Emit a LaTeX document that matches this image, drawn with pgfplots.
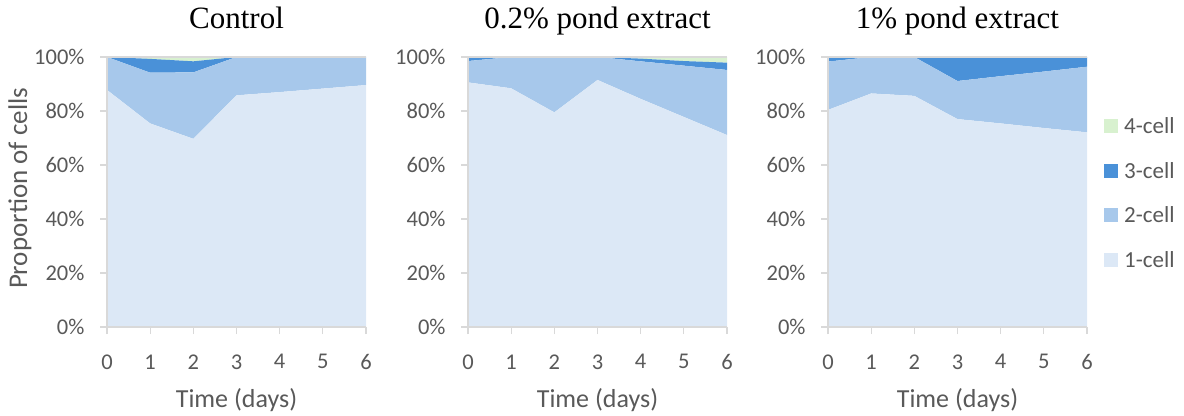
\documentclass[border=0pt]{standalone}
\usepackage{fontspec}
\setmainfont{Carlito}
\newfontfamily\titlefont{Liberation Serif}
\usepackage{pgfplots}
\pgfplotsset{compat=1.18}
\usepackage{pgfplotstable}

\definecolor{cellA}{HTML}{DCE8F6}
\definecolor{cellB}{HTML}{A7C8EB}
\definecolor{cellC}{HTML}{4A91D8}
\definecolor{cellD}{HTML}{D8F1CF}
\definecolor{axgray}{HTML}{D9D9D9}
\definecolor{txtgray}{HTML}{595959}

% day, proportions (%) of 1-, 2-, 3- and 4-cell stages
\pgfplotstableread{
day one two three four
0 87.8 12.2 0.0 0.0
1 75.4 18.8 5.1 0.7
2 69.7 24.6 4.1 1.6
3 85.8 14.2 0.0 0.0
4 87.0 13.0 0.0 0.0
5 88.3 11.7 0.0 0.0
6 89.6 10.4 0.0 0.0
}\control
\pgfplotstableread{
day one two three four
0 90.6 7.9 1.5 0.0
1 88.4 11.6 0.0 0.0
2 79.5 20.5 0.0 0.0
3 91.5 8.5 0.0 0.0
4 84.5 13.9 1.0 0.6
5 77.8 19.0 1.7 1.5
6 71.1 24.1 2.7 2.1
}\lowdose
\pgfplotstableread{
day one two three four
0 80.4 17.9 1.7 0.0
1 86.5 13.5 0.0 0.0
2 85.6 14.4 0.0 0.0
3 77.0 14.1 8.9 0.0
4 75.4 17.5 7.1 0.0
5 73.7 20.9 5.4 0.0
6 72.1 24.3 3.6 0.0
}\highdose

\pgfplotsset{
  panel/.style={
    scale only axis, width=259bp, height=270bp, anchor=south west,
    xmin=0, xmax=6, ymin=0, ymax=100,
    xtick={0,...,6}, ytick={0,20,...,100},
    stack plots=y, area style,
    axis x line*=bottom, axis y line*=left,
    axis line style={axgray, line width=1.5bp},
    tick style={axgray, line width=1.2bp},
    tick align=outside, major tick length=7bp,
    axis on top,
    extra y ticks={100},
    extra y tick labels={},
    extra y tick style={grid=major, major grid style={axgray, line width=1.2bp}, major tick length=0pt},
    /pgf/number format/assume math mode=true,
    yticklabel={\pgfmathprintnumber{\tick}\%},
    tick label style={font=\fontsize{22.5bp}{26bp}\selectfont, text=txtgray},
    xticklabel style={yshift=-17bp},
    yticklabel style={xshift=-12bp},
    label style={font=\fontsize{26bp}{30bp}\selectfont, text=txtgray},
    xlabel={Time (days)},
    xlabel style={at={(axis description cs:0.5,0)}, anchor=base, yshift=-80bp},
    title style={at={(axis description cs:0.5,1)}, anchor=base, yshift=23bp, font=\titlefont\fontsize{31bp}{35bp}\selectfont, text=black},
  },
  s1/.style={fill=cellA, draw=none},
  s2/.style={fill=cellB, draw=none},
  s3/.style={fill=cellC, draw=none},
  s4/.style={fill=cellD, draw=none},
}

\begin{document}
\begin{tikzpicture}[x=1bp, y=1bp]
\path[use as bounding box] (0,0) rectangle (1184,415);

\begin{axis}[panel, at={(107bp,88bp)}, title={Control},
  ylabel={Proportion of cells},
  ylabel style={at={(axis description cs:-0.336,0.513)}, anchor=center,
    font=\fontsize{27bp}{30bp}\selectfont}]
  \addplot[s1] table[x=day, y=one] {\control} \closedcycle;
  \addplot[s2] table[x=day, y=two] {\control} \closedcycle;
  \addplot[s3] table[x=day, y=three] {\control} \closedcycle;
  \addplot[s4] table[x=day, y=four] {\control} \closedcycle;
\end{axis}

\begin{axis}[panel, at={(468bp,88bp)}, title={0.2\% pond extract}]
  \addplot[s1] table[x=day, y=one] {\lowdose} \closedcycle;
  \addplot[s2] table[x=day, y=two] {\lowdose} \closedcycle;
  \addplot[s3] table[x=day, y=three] {\lowdose} \closedcycle;
  \addplot[s4] table[x=day, y=four] {\lowdose} \closedcycle;
\end{axis}

\begin{axis}[panel, at={(828bp,88bp)}, title={1\% pond extract},
  reverse legend,
  legend style={at={(1.0,0.496)}, xshift=17bp, anchor=west, draw=none, fill=none,
    font=\fontsize{23bp}{26bp}\selectfont, text=txtgray,
    row sep=27bp, inner sep=0pt, nodes={inner sep=0pt}},
  legend image code/.code={\fill[#1] (0bp,-7bp) rectangle (14bp,7bp);
    \path (20bp,0bp);},
  legend cell align=left]
  \addplot[s1] table[x=day, y=one] {\highdose} \closedcycle;
  \addplot[s2] table[x=day, y=two] {\highdose} \closedcycle;
  \addplot[s3] table[x=day, y=three] {\highdose} \closedcycle;
  \addplot[s4] table[x=day, y=four] {\highdose} \closedcycle;
  \legend{1-cell, 2-cell, 3-cell, 4-cell}
\end{axis}
\end{tikzpicture}
\end{document}
